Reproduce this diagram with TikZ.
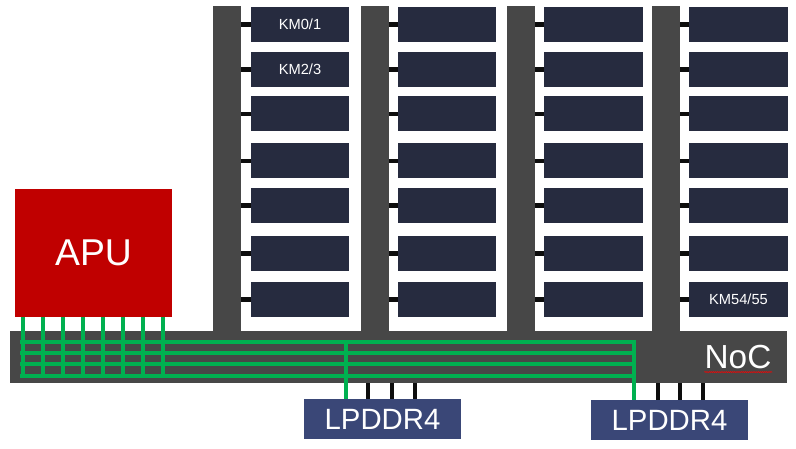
\documentclass[tikz,border=0pt]{standalone}
\usepackage{fontspec}
\setmainfont{Liberation Sans}
\usetikzlibrary{decorations.pathmorphing}
\definecolor{bargray}{HTML}{474747}
\definecolor{kmnavy}{HTML}{262B3F}
\definecolor{apured}{HTML}{C00000}
\definecolor{busgreen}{HTML}{00B050}
\definecolor{ddrblue}{HTML}{3A4777}
\definecolor{stubblack}{HTML}{0D0D0D}
\begin{document}
\begin{tikzpicture}[x=0.75pt,y=-0.75pt,
  box/.style={draw=none,inner sep=0pt,outer sep=0pt,anchor=center},
  kmbox/.style={box,fill=kmnavy,minimum width=74pt,minimum height=26.25pt,text=white,font=\fontsize{11}{13}\selectfont},
  colbar/.style={box,fill=bargray,minimum width=21pt,minimum height=244.5pt},
  stub/.style={draw=stubblack,line width=3.6pt},
  lowstub/.style={draw=stubblack,line width=3pt},
  bus/.style={draw=busgreen,line width=3.4pt},
  ddr/.style={box,fill=ddrblue,minimum width=117.75pt,minimum height=30pt,text=white,font=\fontsize{22}{26}\selectfont}
]
\useasboundingbox (0,0) rectangle (796,449);
% column bars
\node[colbar] (bar1) at (227,169) {};
\node[colbar] (bar2) at (375,169) {};
\node[colbar] (bar3) at (521,169) {};
\node[colbar] (bar4) at (666,169) {};
% NoC
\node[box,fill=bargray,minimum width=582.75pt,minimum height=39pt] (noc) at (398.5,357) {};
\node[text=white,font=\fontsize{25}{30}\selectfont,inner sep=0pt] (noclabel) at (738,357) {NoC};
\draw[red,line width=0.4pt,decorate,decoration={zigzag,amplitude=0.4pt,segment length=1.6pt}]
  (noclabel.south west) ++(0,3) coordinate (wl) -- ++(68,0) coordinate (wr);
% KM blocks
\foreach \c/\bx/\cx in {1/241/300,2/389/447,3/535/593.5,4/680/738.5}{
  \foreach \r/\cy in {1/24.5,2/69.5,3/114,4/161,5/205.5,6/253.5,7/299.5}{
    \node[kmbox] (km\c-\r) at (\cx,\cy) {};
    \coordinate (bs\c-\r) at (\bx,\cy);
    \draw[stub] (bs\c-\r) -- (km\c-\r.west);
  }
}
\node[text=white,font=\fontsize{11}{13}\selectfont] at (km1-1) {KM0/1};
\node[text=white,font=\fontsize{11}{13}\selectfont] at (km1-2) {KM2/3};
\node[text=white,font=\fontsize{11}{13}\selectfont] at (km4-7) {KM54/55};
% APU
\node[box,fill=apured,minimum width=117.75pt,minimum height=96pt,text=white,font=\fontsize{28}{34}\selectfont] (apu) at (93.5,253) {APU};
% LPDDR4
\node[ddr] (ddr1) at (382.5,419) {LPDDR4};
\node[ddr] (ddr2) at (669.5,420) {LPDDR4};
% green bus
\foreach \y [count=\i] in {342,353,364,376}{
  \coordinate (hl\i) at (20,\y);
  \coordinate (hr\i) at (636,\y);
  \draw[bus] (hl\i) -- (hr\i);
}
\foreach \x [count=\i] in {23,43,63,83,103,123,143,163}{
  \coordinate (vb\i) at (\x,378);
  \draw[bus] (apu.south -| vb\i) -- (vb\i);
}
\coordinate (t1) at (346,340);
\coordinate (t2) at (634,340);
\draw[bus] (t1) -- (ddr1.north -| t1);
\draw[bus] (t2) -- (ddr2.north -| t2);
% black stubs below NoC
\foreach \x in {368,392,415}{
  \draw[lowstub] (noc.south -| \x,0) -- (ddr1.north -| \x,0);
}
\foreach \x in {658,680,703}{
  \draw[lowstub] (noc.south -| \x,0) -- (ddr2.north -| \x,0);
}
\end{tikzpicture}
\end{document}
